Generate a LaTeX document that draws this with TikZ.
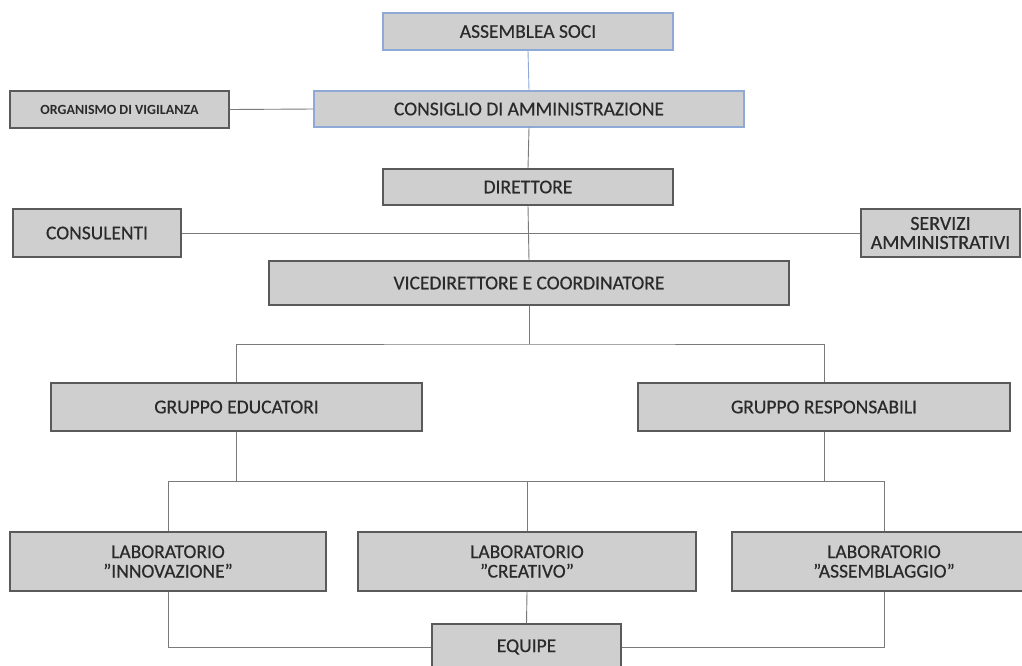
\documentclass[tikz,border=0pt]{standalone}
\usepackage{fontspec}
\setmainfont{Carlito}
\newfontfamily\heavyfont[FakeBold=0.5]{Carlito}
\definecolor{boxfill}{HTML}{CFCFCF}
\definecolor{boxline}{HTML}{5A5A5A}
\definecolor{bluebox}{HTML}{8EA9D6}
\definecolor{conn}{HTML}{7A7A7A}
\definecolor{txt}{HTML}{2A2A2A}
\begin{document}
\begin{tikzpicture}[x=1pt,y=-1pt,
  orgbox/.style={draw=boxline,fill=boxfill,line width=1.1pt,text=txt,
    font=\heavyfont\fontsize{19.5}{19.5}\selectfont,align=center,inner sep=0pt},
  bluebx/.style={orgbox,draw=bluebox},
  wire/.style={draw=conn,line width=0.9pt},
  bluewire/.style={draw=bluebox,line width=0.9pt}]
\useasboundingbox (0,0) rectangle (1022,665);
\fill[white] (0,0) rectangle (1022,665);
% nodes
\node[bluebx,minimum width=290pt,minimum height=37pt] (ass) at (528,31.5) {ASSEMBLEA SOCI};
\node[bluebx,minimum width=430pt,minimum height=36pt] (cda) at (529,109) {CONSIGLIO DI AMMINISTRAZIONE};
\node[orgbox,minimum width=219pt,minimum height=37pt,font=\rmfamily\fontsize{14}{14}\selectfont\bfseries] (org) at (119.5,109.5) {ORGANISMO DI VIGILANZA};
\node[orgbox,minimum width=290pt,minimum height=36pt] (dir) at (528,187) {DIRETTORE};
\node[orgbox,minimum width=168pt,minimum height=48pt] (cons) at (97,233) {CONSULENTI};
\node[orgbox,minimum width=159pt,minimum height=48pt,font=\heavyfont\fontsize{20}{19}\selectfont] (serv) at (940.5,233) {SERVIZI\\AMMINISTRATIVI};
\node[orgbox,minimum width=520pt,minimum height=44pt] (vice) at (529,283) {VICEDIRETTORE E COORDINATORE};
\node[orgbox,minimum width=371pt,minimum height=48pt] (ge) at (236.5,407) {GRUPPO EDUCATORI};
\node[orgbox,minimum width=372pt,minimum height=48pt] (gr) at (824,407) {GRUPPO RESPONSABILI};
\node[orgbox,minimum width=316pt,minimum height=59pt] (li) at (168,561.5) {LABORATORIO\\\textquotedblright INNOVAZIONE\textquotedblright};
\node[orgbox,minimum width=338pt,minimum height=59pt] (lc) at (527,561.5) {LABORATORIO\\\textquotedblright CREATIVO\textquotedblright};
\node[orgbox,minimum width=304pt,minimum height=59pt] (la) at (884,561.5) {LABORATORIO\\\textquotedblright ASSEMBLAGGIO\textquotedblright};
\node[orgbox,minimum width=189pt,minimum height=46pt] (eq) at (526.5,647) {EQUIPE};
% connectors
\draw[bluewire] (ass.south) -- (cda.north);
\draw[wire] (org.east) -- (cda.west);
\draw[wire] (cda.south) -- (dir.north);
\draw[wire] (dir.south) -- (vice.north);
\draw[wire] (cons.east) -- (serv.west);
\coordinate (j1) at (529,344);
\coordinate (j2) at (527,481);
\draw[wire] (vice.south) -- (j1);
\draw[wire] (ge.north) |- (j1) -| (gr.north);
\draw[wire] (ge.south) -- (ge.south |- j2);
\draw[wire] (gr.south) -- (gr.south |- j2);
\draw[wire] (li.north) |- (j2) -| (la.north);
\draw[wire] (lc.north) -- (j2);
\draw[wire] (li.south) |- (eq.west);
\draw[wire] (la.south) |- (eq.east);
\draw[wire] (lc.south) -- (eq.north);
\end{tikzpicture}
\end{document}
